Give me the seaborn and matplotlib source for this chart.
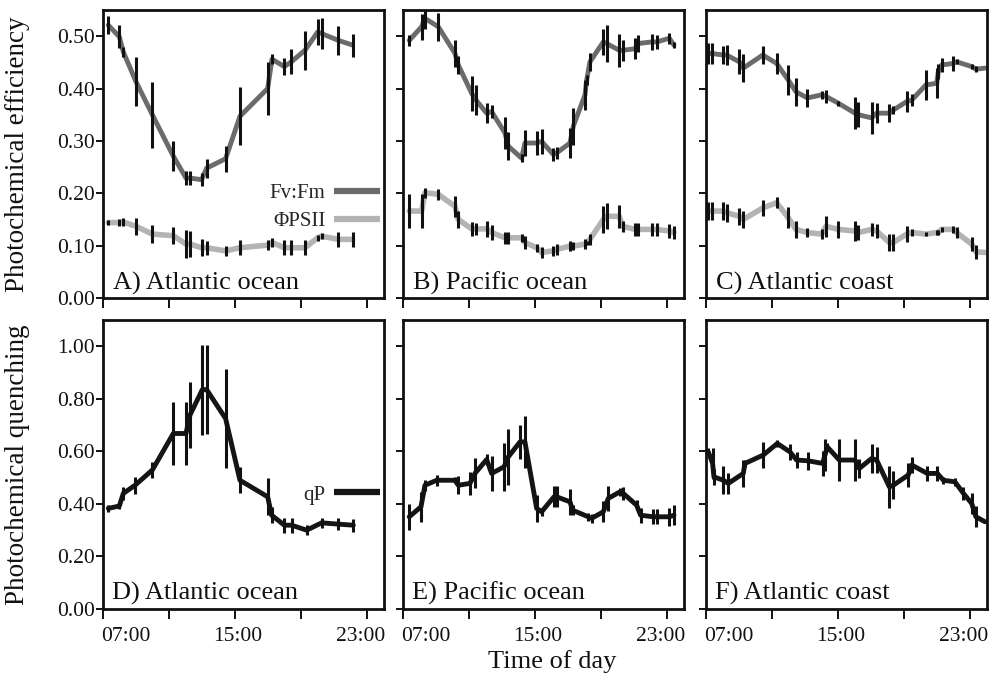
import matplotlib
matplotlib.use("Agg")
import matplotlib.pyplot as plt
import matplotlib.transforms as mtransforms
import seaborn as sns
import pandas as pd
import numpy as np

# ---------------- data ----------------
time_A = [7.32, 7.99, 8.23, 9.00, 9.99, 11.26, 12.03, 12.27, 12.98, 13.28, 14.43,
          15.30, 16.98, 17.24, 17.99, 18.41, 19.24, 20.01, 20.25, 21.26, 22.13]
fvfm_A = [0.521, 0.499, 0.470, 0.413, 0.350, 0.271, 0.229, 0.229, 0.226, 0.248, 0.266,
          0.347, 0.400, 0.456, 0.442, 0.451, 0.473, 0.508, 0.505, 0.492, 0.483]
fvfm_A_err = [0.017, 0.022, 0.010, 0.047, 0.063, 0.029, 0.013, 0.013, 0.013, 0.018, 0.025,
              0.055, 0.051, 0.010, 0.016, 0.024, 0.037, 0.025, 0.030, 0.027, 0.022]
psii_A = [0.144, 0.144, 0.145, 0.137, 0.122, 0.119, 0.103, 0.103, 0.096, 0.096, 0.090,
          0.096, 0.101, 0.106, 0.096, 0.096, 0.096, 0.115, 0.118, 0.112, 0.112]
psii_A_err = [0.005, 0.006, 0.008, 0.016, 0.017, 0.016, 0.027, 0.025, 0.016, 0.013, 0.010,
              0.014, 0.010, 0.008, 0.014, 0.014, 0.014, 0.006, 0.006, 0.014, 0.014]

time_B = [7.38, 8.13, 8.33, 9.14, 10.15, 10.35, 11.16, 11.42, 12.07, 12.37, 13.18, 13.38,
          14.19, 14.39, 15.10, 15.40, 16.11, 16.31, 17.12, 17.32, 18.03, 18.13, 18.33,
          19.14, 19.34, 20.11, 20.31, 21.06, 21.26, 22.07, 22.37, 23.14, 23.42]
fvfm_B = [0.492, 0.518, 0.534, 0.518, 0.467, 0.445, 0.391, 0.378, 0.353, 0.356, 0.315, 0.290,
          0.267, 0.296, 0.296, 0.299, 0.274, 0.277, 0.296, 0.328, 0.388, 0.416, 0.451,
          0.489, 0.486, 0.473, 0.473, 0.476, 0.486, 0.489, 0.489, 0.496, 0.483]
fvfm_B_err = [0.011, 0.025, 0.020, 0.027, 0.025, 0.017, 0.033, 0.028, 0.019, 0.013, 0.030, 0.027,
              0.008, 0.025, 0.022, 0.024, 0.013, 0.011, 0.029, 0.035, 0.029, 0.010, 0.017,
              0.024, 0.035, 0.032, 0.020, 0.020, 0.016, 0.016, 0.013, 0.010, 0.006]
psii_B = [0.166, 0.166, 0.201, 0.198, 0.175, 0.150, 0.132, 0.132, 0.132, 0.125, 0.115, 0.115,
          0.115, 0.106, 0.096, 0.087, 0.090, 0.093, 0.099, 0.099, 0.103, 0.105, 0.112,
          0.150, 0.156, 0.156, 0.137, 0.131, 0.131, 0.131, 0.131, 0.128, 0.125]
psii_B_err = [0.033, 0.033, 0.010, 0.010, 0.020, 0.016, 0.013, 0.011, 0.016, 0.014, 0.011, 0.011,
              0.008, 0.013, 0.008, 0.010, 0.010, 0.010, 0.010, 0.008, 0.010, 0.004, 0.010,
              0.025, 0.025, 0.022, 0.011, 0.013, 0.013, 0.013, 0.013, 0.013, 0.013]

time_C = [7.14, 7.34, 8.05, 8.25, 9.02, 9.26, 10.44, 11.28, 11.99, 12.45, 13.14, 14.01, 14.27,
          15.02, 16.03, 16.23, 17.04, 17.34, 18.11, 18.35, 19.16, 19.47, 20.33, 20.98, 21.08,
          21.28, 21.99, 22.19, 23.10, 23.36, 23.91]
fvfm_C = [0.467, 0.467, 0.464, 0.464, 0.451, 0.439, 0.464, 0.448, 0.416, 0.394, 0.382, 0.388, 0.385,
          0.372, 0.353, 0.350, 0.344, 0.353, 0.353, 0.359, 0.375, 0.378, 0.407, 0.410, 0.432,
          0.445, 0.448, 0.451, 0.442, 0.437, 0.439]
fvfm_C_err = [0.020, 0.020, 0.017, 0.019, 0.024, 0.027, 0.017, 0.020, 0.029, 0.027, 0.017, 0.008, 0.013,
              0.005, 0.030, 0.024, 0.030, 0.019, 0.017, 0.008, 0.020, 0.011, 0.029, 0.029, 0.014,
              0.014, 0.015, 0.005, 0.005, 0.006, 0.000]
psii_C = [0.166, 0.166, 0.166, 0.163, 0.156, 0.150, 0.172, 0.182, 0.153, 0.131, 0.125, 0.122, 0.137,
          0.131, 0.128, 0.125, 0.131, 0.128, 0.106, 0.106, 0.122, 0.125, 0.122, 0.125, 0.125,
          0.131, 0.131, 0.125, 0.103, 0.088, 0.087]
psii_C_err = [0.017, 0.017, 0.017, 0.017, 0.016, 0.016, 0.016, 0.011, 0.020, 0.017, 0.008, 0.010, 0.020,
              0.017, 0.020, 0.014, 0.013, 0.014, 0.017, 0.017, 0.016, 0.006, 0.004, 0.004, 0.004,
              0.005, 0.006, 0.011, 0.013, 0.013, 0.000]

time_D = [7.32, 7.99, 8.23, 8.94, 9.99, 11.26, 12.03, 12.27, 13.02, 13.28, 14.43, 15.30,
          16.98, 17.22, 17.99, 18.43, 19.34, 20.25, 21.26, 22.17]
qp_D = [0.383, 0.392, 0.440, 0.471, 0.529, 0.668, 0.668, 0.738, 0.835, 0.835, 0.725, 0.490,
        0.427, 0.357, 0.319, 0.319, 0.300, 0.328, 0.323, 0.319]
qp_D_err = [0.013, 0.010, 0.025, 0.032, 0.032, 0.120, 0.120, 0.127, 0.171, 0.170, 0.190, 0.050,
            0.070, 0.030, 0.028, 0.028, 0.020, 0.020, 0.022, 0.025]

time_E = [7.38, 8.09, 8.33, 9.04, 10.15, 10.35, 11.06, 11.36, 12.07, 12.37, 13.12, 13.38, 14.09,
          14.39, 15.10, 15.40, 16.15, 16.31, 17.12, 17.28, 18.23, 18.43, 19.14, 19.44, 20.15,
          20.35, 21.16, 21.40, 22.17, 22.37, 23.14, 23.42]
qp_E = [0.351, 0.389, 0.471, 0.490, 0.490, 0.471, 0.478, 0.516, 0.569, 0.516, 0.541, 0.579, 0.636,
        0.636, 0.383, 0.370, 0.427, 0.427, 0.408, 0.376, 0.351, 0.345, 0.370, 0.421, 0.446,
        0.440, 0.395, 0.357, 0.351, 0.351, 0.351, 0.357]
qp_E_err = [0.050, 0.057, 0.020, 0.020, 0.012, 0.035, 0.045, 0.057, 0.020, 0.066, 0.090, 0.108, 0.066,
            0.100, 0.050, 0.016, 0.040, 0.040, 0.050, 0.020, 0.016, 0.016, 0.040, 0.047, 0.016,
            0.025, 0.020, 0.028, 0.028, 0.028, 0.035, 0.038]

time_F = [7.14, 7.40, 7.48, 8.05, 8.35, 9.26, 9.36, 10.47, 11.32, 12.09, 12.49, 13.20, 14.07,
          14.21, 14.35, 15.08, 16.03, 16.29, 17.04, 17.34, 18.11, 18.35, 19.26, 19.47, 20.41,
          21.02, 21.39, 22.09, 22.60, 23.10, 23.36, 23.91]
qp_F = [0.598, 0.554, 0.503, 0.490, 0.478, 0.516, 0.554, 0.586, 0.630, 0.598, 0.567, 0.564, 0.554,
        0.586, 0.617, 0.567, 0.567, 0.535, 0.573, 0.567, 0.465, 0.471, 0.510, 0.548, 0.516,
        0.516, 0.490, 0.484, 0.440, 0.402, 0.351, 0.332]
qp_F_err = [0.013, 0.060, 0.030, 0.054, 0.040, 0.050, 0.015, 0.050, 0.015, 0.030, 0.030, 0.035, 0.047,
            0.060, 0.015, 0.080, 0.080, 0.035, 0.054, 0.050, 0.080, 0.054, 0.047, 0.030, 0.030,
            0.030, 0.013, 0.016, 0.025, 0.040, 0.040, 0.000]

top_labels = ["A) Atlantic ocean", "B) Pacific ocean", "C) Atlantic coast"]
bottom_labels = ["D) Atlantic ocean", "E) Pacific ocean", "F) Atlantic coast"]
x_ticks = [7, 11, 15, 19, 23]
x_tick_labels = ["07:00", "", "15:00", "", "23:00"]
top_yticks = [0.0, 0.1, 0.2, 0.3, 0.4, 0.5]
bottom_yticks = [0.0, 0.2, 0.4, 0.6, 0.8, 1.0]

# ---------------- style ----------------
sns.set_style("ticks")
plt.rcParams["font.family"] = ["Liberation Serif", "DejaVu Serif"]
plt.rcParams["mathtext.fontset"] = "stix"

FV_COLOR = "#6b6b6b"
PS_COLOR = "#b3b3b3"
QP_COLOR = "#151515"
ERR_COLOR = "#111111"

W, H = 995, 676
fig = plt.figure(figsize=(W / 100, H / 100), dpi=100)

col_left = [103, 403, 706]
col_w = 281
top_row = (10, 298)
bot_row = (320, 609)


def make_ax(left, row):
    t, b = row
    return fig.add_axes([left / W, 1 - b / H, col_w / W, (b - t) / H])


def style_ax(ax, ylim, yticks, show_y, show_x):
    ax.set_xlim(7, 24.03)
    ax.set_ylim(*ylim)
    ax.set_xticks(x_ticks)
    ax.set_yticks(yticks)
    ax.tick_params(axis="x", direction="out", length=7, width=1.4, pad=6, colors="#111111")
    ax.tick_params(axis="y", direction="out", length=5, width=1.4, pad=1, colors="#111111")
    if show_x:
        ax.set_xticklabels(x_tick_labels, fontsize=15.5)
        labs = ax.get_xticklabels()
        # first label starts at the tick, last one ends at the panel edge
        labs[0].set_horizontalalignment("left")
        labs[0].set_transform(labs[0].get_transform() +
                              mtransforms.ScaledTranslation(-0.02, 0, fig.dpi_scale_trans))
        labs[2].set_transform(labs[2].get_transform() +
                              mtransforms.ScaledTranslation(0.03, 0, fig.dpi_scale_trans))
        labs[4].set_horizontalalignment("right")
        labs[4].set_transform(labs[4].get_transform() +
                              mtransforms.ScaledTranslation(0.18, 0, fig.dpi_scale_trans))
    else:
        ax.set_xticklabels([])
    if show_y:
        ax.set_yticklabels([f"{v:.2f}" for v in yticks], fontsize=15.5)
    else:
        ax.set_yticklabels([])
    for s in ax.spines.values():
        s.set_visible(True)
        s.set_linewidth(2.0)
        s.set_color("#111111")
    ax.set_xlabel("")
    ax.set_ylabel("")


def draw_series(ax, t, v, e, color, lw, label=None):
    df = pd.DataFrame({"time": t, "value": v})
    sns.lineplot(data=df, x="time", y="value", ax=ax, color=color, linewidth=lw,
                 solid_capstyle="round", label=label, legend=False, zorder=2)
    ax.errorbar(t, v, yerr=e, fmt="none", ecolor=ERR_COLOR, elinewidth=2.2,
                capsize=0, zorder=3)


top_data = [
    (time_A, fvfm_A, fvfm_A_err, psii_A, psii_A_err),
    (time_B, fvfm_B, fvfm_B_err, psii_B, psii_B_err),
    (time_C, fvfm_C, fvfm_C_err, psii_C, psii_C_err),
]
bottom_data = [
    (time_D, qp_D, qp_D_err),
    (time_E, qp_E, qp_E_err),
    (time_F, qp_F, qp_F_err),
]

top_axes = []
for i, (t, fv, fve, ps, pse) in enumerate(top_data):
    ax = make_ax(col_left[i], top_row)
    draw_series(ax, t, ps, pse, PS_COLOR, 4.0, label="ΦPSII")
    draw_series(ax, t, fv, fve, FV_COLOR, 3.5, label="Fv:Fm")
    style_ax(ax, (0, 0.55), top_yticks, i == 0, False)
    ax.text(0.036, 0.028, top_labels[i], transform=ax.transAxes, fontsize=19,
            ha="left", va="baseline", color="#111111")
    top_axes.append(ax)

bottom_axes = []
for i, (t, q, qe) in enumerate(bottom_data):
    ax = make_ax(col_left[i], bot_row)
    draw_series(ax, t, q, qe, QP_COLOR, 3.5, label="qP")
    style_ax(ax, (0, 1.1), bottom_yticks, i == 0, True)
    ax.text(0.032, 0.031, bottom_labels[i], transform=ax.transAxes, fontsize=19,
            ha="left", va="baseline", color="#111111")
    bottom_axes.append(ax)

# legends
axA = top_axes[0]
h, l = axA.get_legend_handles_labels()
order = [l.index("Fv:Fm"), l.index("ΦPSII")]
legA = axA.legend([h[k] for k in order], [l[k] for k in order], loc="center right",
                  bbox_to_anchor=(0.985, 0.315), frameon=False, markerfirst=False,
                  fontsize=15, handlelength=2.2, handletextpad=0.4, labelspacing=0.4,
                  borderpad=0, borderaxespad=0)
for lh in legA.get_lines():
    lh.set_linewidth(4.5)
    lh.set_solid_capstyle("butt")

axD = bottom_axes[0]
h, l = axD.get_legend_handles_labels()
legD = axD.legend(h, l, loc="center right", bbox_to_anchor=(0.985, 0.395), frameon=False,
                  markerfirst=False, fontsize=15, handlelength=2.2, handletextpad=0.4,
                  borderpad=0, borderaxespad=0)
for lh in legD.get_lines():
    lh.set_linewidth(4.5)
    lh.set_solid_capstyle("butt")

# axis titles
fig.text(18 / W, 1 - 154 / H, "Photochemical efficiency", rotation=90, ha="center",
         va="center", fontsize=19.5, color="#111111")
fig.text(18 / W, 1 - 465 / H, "Photochemical quenching", rotation=90, ha="center",
         va="center", fontsize=19.5, color="#111111")
fig.text(552 / W, 1 - 662 / H, "Time of day", ha="center", va="center", fontsize=19,
         color="#111111")

fig.savefig("out.png", dpi=100)
